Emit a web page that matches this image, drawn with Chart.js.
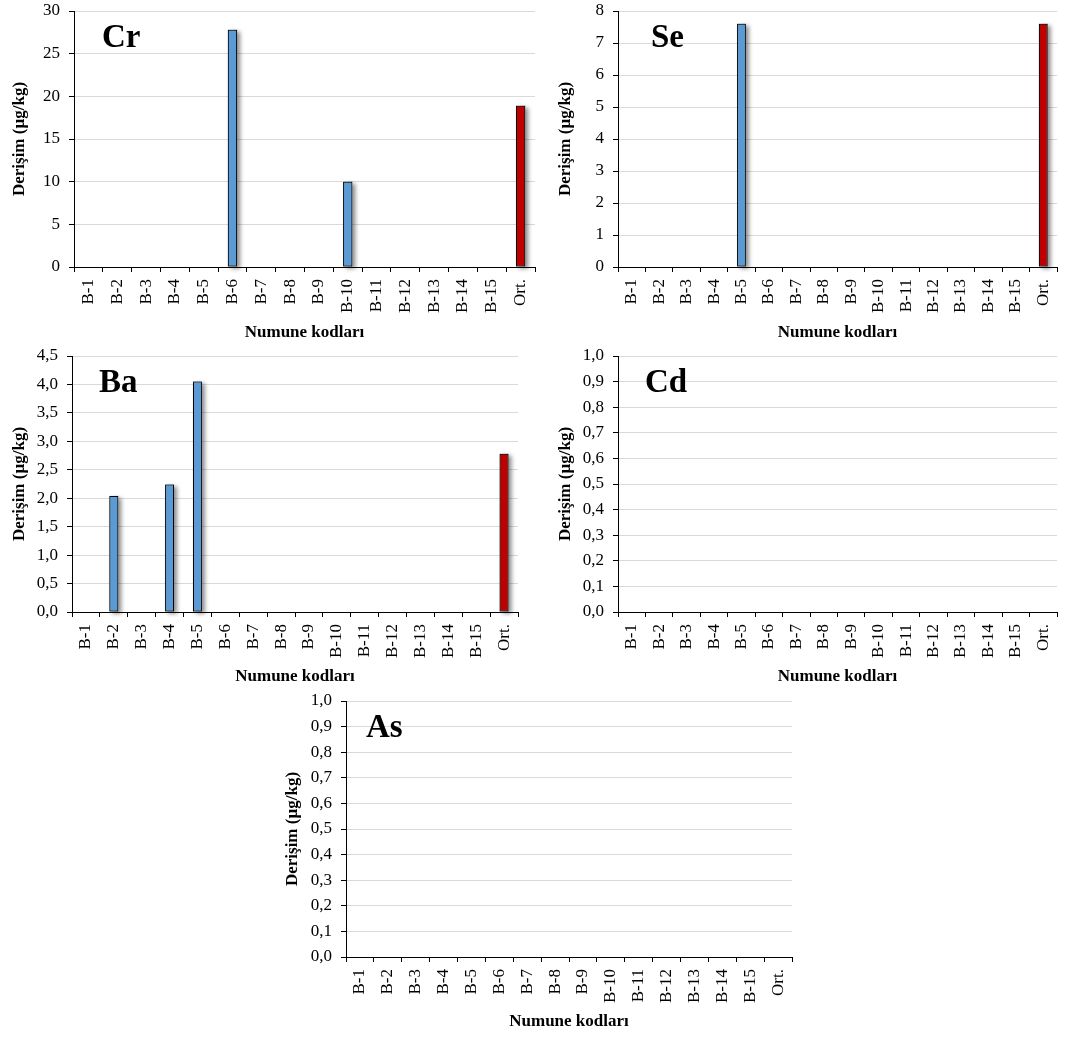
<!DOCTYPE html>
<html>
<head>
<meta charset="utf-8">
<title>Numune derişimleri</title>
<script src="https://cdn.jsdelivr.net/npm/chart.js@4.4.1/dist/chart.umd.min.js"></script>
<style>
  html, body { margin: 0; padding: 0; background: #ffffff; }
  body { width: 1089px; height: 1037px; position: relative; overflow: hidden; }
  canvas { position: absolute; }
</style>
</head>
<body>
<canvas id="cr"></canvas>
<canvas id="se"></canvas>
<canvas id="ba"></canvas>
<canvas id="cd"></canvas>
<canvas id="as"></canvas>
<script>
// Sample codes on the x axis; the last one is the mean of the detected samples
const categories = ['B-1', 'B-2', 'B-3', 'B-4', 'B-5', 'B-6', 'B-7', 'B-8',
                    'B-9', 'B-10', 'B-11', 'B-12', 'B-13', 'B-14', 'B-15', 'Ort.'];

// Concentrations (µg/kg) per element
const crValues = [0, 0, 0, 0, 0, 27.8, 0, 0, 0, 10.0, 0, 0, 0, 0, 0, 18.9];
const seValues = [0, 0, 0, 0, 7.6, 0, 0, 0, 0, 0, 0, 0, 0, 0, 0, 7.6];
const baValues = [0, 2.04, 0, 2.24, 4.05, 0, 0, 0, 0, 0, 0, 0, 0, 0, 0, 2.78];
const cdValues = [0, 0, 0, 0, 0, 0, 0, 0, 0, 0, 0, 0, 0, 0, 0, 0];
const asValues = [0, 0, 0, 0, 0, 0, 0, 0, 0, 0, 0, 0, 0, 0, 0, 0];

// Y axis ranges
const crAxis = { max: 30, step: 5, decimals: 0 };
const seAxis = { max: 8, step: 1, decimals: 0 };
const baAxis = { max: 4.5, step: 0.5, decimals: 1 };
const cdAxis = { max: 1.0, step: 0.1, decimals: 1 };
const asAxis = { max: 1.0, step: 0.1, decimals: 1 };

const Y_TITLE = 'Derişim (µg/kg)';
const X_TITLE = 'Numune kodları';

const SERIF = "'Liberation Serif', 'Times New Roman', serif";
const SAMPLE_COLOR = '#5B9BD5';
const MEAN_COLOR = '#C00000';
const GRID_COLOR = '#D9D9D9';
const TITLE_FONT = 17;
const TITLE_LH = TITLE_FONT * 1.2;

// Panel layout: canvas box [left, top, width, height] and plot area [l, t, r, b] in page pixels
const panels = [
  { id: 'cr', element: 'Cr', values: crValues, axis: crAxis,
    box: [0, 0, 545, 345], area: [74, 11, 535, 267], yTitleX: 20, xTitleY: 333, labelDx: 28 },
  { id: 'se', element: 'Se', values: seValues, axis: seAxis,
    box: [545, 0, 544, 345], area: [618, 11, 1057, 267], yTitleX: 566, xTitleY: 333, labelDx: 33 },
  { id: 'ba', element: 'Ba', values: baValues, axis: baAxis,
    box: [0, 345, 545, 345], area: [72, 356, 518, 612], yTitleX: 20, xTitleY: 677, labelDx: 27 },
  { id: 'cd', element: 'Cd', values: cdValues, axis: cdAxis,
    box: [545, 345, 544, 345], area: [618, 356, 1057, 612], yTitleX: 566, xTitleY: 677, labelDx: 27 },
  { id: 'as', element: 'As', values: asValues, axis: asAxis,
    box: [270, 690, 550, 347], area: [346, 701, 792, 957], yTitleX: 293, xTitleY: 1022, labelDx: 20 }
];

// Soft drop shadow behind each non-zero bar, using the bar geometry computed by Chart.js
const barShadow = {
  id: 'barShadow',
  beforeDatasetsDraw(chart) {
    const ctx = chart.ctx;
    chart.getDatasetMeta(0).data.forEach((bar) => {
      const p = bar.getProps(['x', 'y', 'base', 'width'], true);
      if (Math.abs(p.base - p.y) < 0.5) return;
      ctx.save();
      ctx.shadowColor = 'rgba(0,0,0,0.45)';
      ctx.shadowBlur = 4;
      ctx.shadowOffsetX = 3;
      ctx.shadowOffsetY = 2;
      ctx.fillStyle = '#888';
      ctx.fillRect(p.x - p.width / 2, Math.min(p.y, p.base), p.width, Math.abs(p.base - p.y));
      ctx.restore();
    });
  }
};

// Element symbol in the upper-left corner of the plot area
const elementLabel = {
  id: 'elementLabel',
  afterDatasetsDraw(chart, args, opts) {
    const ctx = chart.ctx;
    const a = chart.chartArea;
    ctx.save();
    ctx.font = 'bold 33px ' + SERIF;
    ctx.fillStyle = '#000';
    ctx.textAlign = 'left';
    ctx.textBaseline = 'alphabetic';
    ctx.fillText(opts.text, a.left + opts.dx, a.top + 36);
    ctx.restore();
  }
};

function fmt(value, decimals) {
  return Number(value).toFixed(decimals).replace('.', ',');
}

function clearScalePadding(scale) {
  scale.paddingLeft = 0;
  scale.paddingRight = 0;
  scale.paddingTop = 0;
  scale.paddingBottom = 0;
}

panels.forEach((p) => {
  const [bl, bt, bw, bh] = p.box;
  const [al, at, ar, ab] = p.area;
  const canvas = document.getElementById(p.id);
  canvas.width = bw;
  canvas.height = bh;
  canvas.style.left = bl + 'px';
  canvas.style.top = bt + 'px';
  canvas.style.width = bw + 'px';
  canvas.style.height = bh + 'px';

  const yAxisWidth = al - bl;
  const xAxisHeight = bt + bh - ab;
  const xTitlePadBottom = (bt + bh - p.xTitleY) - TITLE_LH / 2;
  const yTitlePadTop = (p.yTitleX - bl) - TITLE_LH / 2;
  const last = categories.length - 1;

  new Chart(canvas, {
    type: 'bar',
    data: {
      labels: categories,
      datasets: [{
        data: p.values,
        backgroundColor: categories.map((c, i) => (i === last ? MEAN_COLOR : SAMPLE_COLOR)),
        borderColor: '#000000',
        borderWidth: (ctx) => (ctx.raw ? 1 : 0),
        borderSkipped: false,
        barPercentage: 0.32,
        categoryPercentage: 1.0
      }]
    },
    options: {
      responsive: false,
      animation: false,
      devicePixelRatio: 1,
      layout: {
        padding: { left: 0, top: at - bt, right: bl + bw - ar, bottom: 0 }
      },
      plugins: {
        legend: { display: false },
        tooltip: { enabled: false },
        elementLabel: { text: p.element, dx: p.labelDx }
      },
      scales: {
        x: {
          offset: true,
          grid: {
            offset: true,
            drawOnChartArea: false,
            drawTicks: true,
            tickLength: 5,
            color: '#000000',
            tickColor: '#000000'
          },
          border: { display: true, color: '#000000', width: 1 },
          ticks: {
            autoSkip: false,
            maxRotation: 90,
            minRotation: 90,
            padding: 7,
            color: '#000000',
            font: { family: SERIF, size: 17 }
          },
          title: {
            display: true,
            text: X_TITLE,
            color: '#000000',
            font: { family: SERIF, size: TITLE_FONT, weight: 'bold' },
            padding: { top: 0, bottom: xTitlePadBottom }
          },
          afterFit: (scale) => { scale.height = xAxisHeight; clearScalePadding(scale); }
        },
        y: {
          min: 0,
          max: p.axis.max,
          grid: {
            color: GRID_COLOR,
            lineWidth: 1,
            drawTicks: true,
            tickLength: 5,
            tickColor: '#000000'
          },
          border: { display: true, color: '#000000', width: 1 },
          ticks: {
            stepSize: p.axis.step,
            padding: 9,
            color: '#000000',
            font: { family: SERIF, size: 17 },
            callback: (v) => fmt(v, p.axis.decimals)
          },
          title: {
            display: true,
            text: Y_TITLE,
            color: '#000000',
            font: { family: SERIF, size: TITLE_FONT, weight: 'bold' },
            padding: { top: yTitlePadTop, bottom: 0 }
          },
          afterFit: (scale) => { scale.width = yAxisWidth; clearScalePadding(scale); }
        }
      }
    },
    plugins: [barShadow, elementLabel]
  });
});
</script>
</body>
</html>
